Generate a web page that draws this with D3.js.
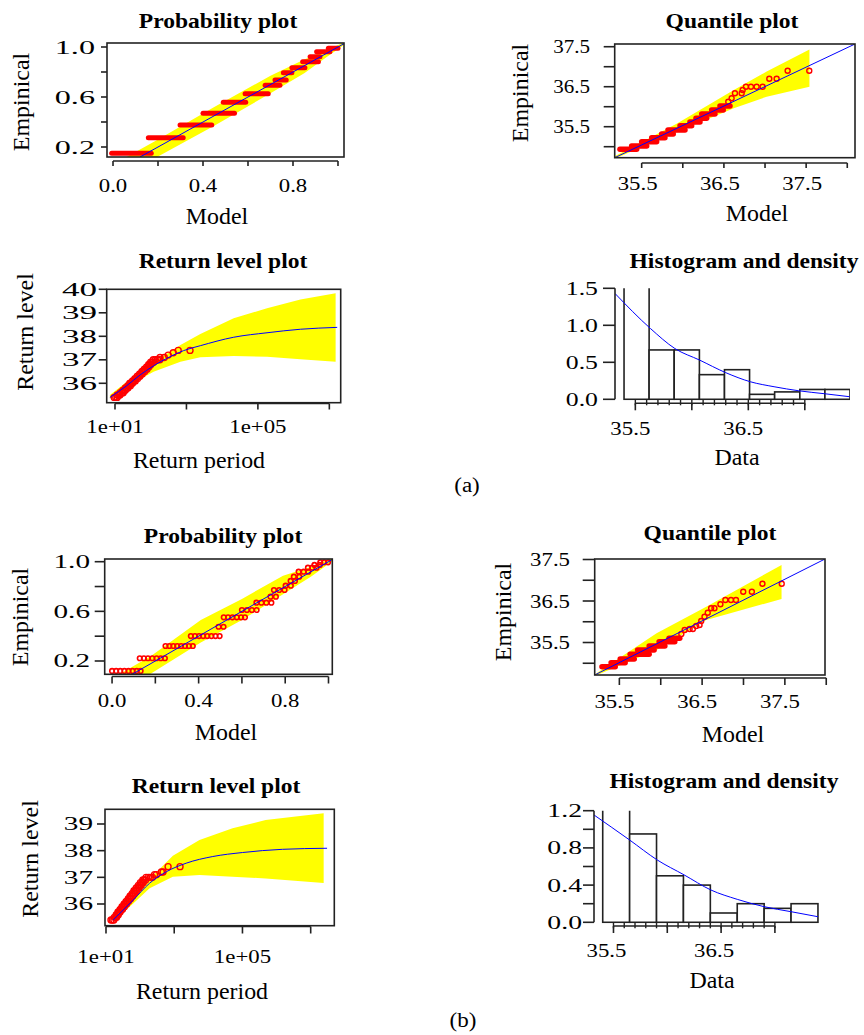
<!DOCTYPE html>
<html>
<head>
<meta charset="utf-8">
<script src="https://cdn.jsdelivr.net/npm/d3@7"></script>
<style>
  body { margin: 0; background: #fff; }
  text { font-family: "Liberation Serif", "Times New Roman", serif; fill: #000; }
</style>
</head>
<body>
<svg id="fig" width="864" height="1035"></svg>
<script>
// ---------- data ----------

// (a) probability plot: [empirical, model from, model to] for each run of tied points
const probA_runs = [
  [0.150, -0.006, 0.170], [0.274, 0.157, 0.312], [0.376, 0.298, 0.439],
  [0.470, 0.400, 0.540], [0.558, 0.490, 0.590], [0.626, 0.587, 0.690],
  [0.694, 0.676, 0.742], [0.736, 0.720, 0.770], [0.794, 0.757, 0.795],
  [0.834, 0.795, 0.853], [0.882, 0.843, 0.913], [0.922, 0.876, 0.920],
  [0.962, 0.905, 0.964], [0.990, 0.957, 1.000]
];
const probA_bandModel = [0.03, 0.20, 0.45, 0.70, 0.85, 0.95, 1.03];
const probA_bandLower = [-0.05, 0.125, 0.37, 0.63, 0.79, 0.92, 1.02];
const probA_bandUpper = [0.09, 0.26, 0.52, 0.77, 0.90, 0.975, 1.04];
const probA_diag = [0.12, 1.03];

// (a) quantile plot
const quantA_runs = [
  [34.935, 35.236, 35.439], [35.020, 35.378, 35.561], [35.125, 35.500, 35.682],
  [35.225, 35.622, 35.783], [35.318, 35.743, 35.884], [35.418, 35.820, 36.027],
  [35.525, 35.966, 36.108], [35.618, 36.087, 36.209], [35.710, 36.160, 36.290],
  [35.818, 36.230, 36.391], [35.918, 36.351, 36.492], [36.018, 36.452, 36.574]
];
const quantA_model = [36.553, 36.594, 36.634, 36.716, 36.728, 36.768, 36.829, 36.898, 36.971, 37.052, 37.141, 37.275, 37.538];
const quantA_emp   = [36.125, 36.210, 36.335, 36.335, 36.418, 36.500, 36.500, 36.500, 36.500, 36.700, 36.700, 36.900, 36.900];
const quantA_bandModel = [35.172, 35.93, 36.62, 37.02, 37.54];
const quantA_bandLower = [34.70, 35.37, 35.96, 36.25, 36.50];
const quantA_bandUpper = [34.76, 35.58, 36.42, 36.88, 37.43];
const quantA_lineModel = [35.172, 38.094];
const quantA_lineEmp = [34.725, 37.568];

// (a) return level plot
const retA_curveT = [7.2, 21, 50, 120, 280, 830, 2450, 2.1e4, 1.8e5, 1.55e6, 1.66e7];
const retA_curveLevel = [35.40, 35.89, 36.35, 36.74, 37.06, 37.39, 37.60, 37.96, 38.15, 38.30, 38.38];
const retA_bandT = [7.2, 32, 120, 680, 2450, 2.1e4, 1.8e5, 1.55e6, 1.5e7];
const retA_bandLower = [35.35, 36.00, 36.49, 36.92, 37.11, 37.16, 37.13, 37.02, 36.92];
const retA_bandUpper = [35.50, 36.28, 36.88, 37.63, 38.10, 38.77, 39.19, 39.57, 39.83];
// observed levels and the return periods of the tied points on each level
const retA_levels = [35.4, 35.5, 35.6, 35.7, 35.8, 35.9, 36.0, 36.1, 36.2, 36.3, 36.4, 36.5, 36.6, 36.7, 36.8, 36.9, 37.0, 37.1, 37.2, 37.3, 37.4];
const retA_periods = [
  [9.5, 10.5, 11.5], [11.5, 12.6, 13.8], [14, 15.5, 17], [16.5, 18, 19.5], [19.5, 21, 23],
  [23, 25, 27], [26, 28.5, 31], [31, 34, 37], [36, 39, 43], [42, 46, 50], [49, 53, 58],
  [57, 62, 68], [66, 72, 79], [77, 84, 90], [88, 95, 102], [100, 110, 120],
  [118, 135, 155, 180], [182, 240], [309], [427], [589, 1259]
];

// (a) histogram and density
const histA_breaks = [35.4, 35.622, 35.844, 36.067, 36.289, 36.511, 36.733, 36.956, 37.178, 37.4];
const histA_density = [2.0, 0.667, 0.667, 0.333, 0.4, 0.067, 0.1, 0.133, 0.133];
const histA_curveX = [35.32, 35.635, 35.85, 36.069, 36.30, 36.518, 36.728, 36.947, 37.177, 37.396];
const histA_curveY = [1.43, 0.955, 0.686, 0.53, 0.36, 0.237, 0.17, 0.115, 0.075, 0.035];

// (b) probability plot: empirical level and the model value of each circle on it
const probB_emp = [0.12, 0.222, 0.321, 0.401, 0.476, 0.552, 0.611, 0.67, 0.718, 0.772, 0.807, 0.845, 0.879, 0.92, 0.952, 0.974, 0.995];
const probB_model = [
  [0.000, 0.019, 0.038, 0.057, 0.076, 0.095, 0.114, 0.132],
  [0.128, 0.147, 0.166, 0.186, 0.206, 0.225, 0.244],
  [0.247, 0.265, 0.283, 0.301, 0.319, 0.337, 0.355, 0.373],
  [0.364, 0.383, 0.402, 0.421, 0.440, 0.459, 0.478, 0.497],
  [0.492, 0.515],
  [0.516, 0.536, 0.556, 0.576, 0.596, 0.614],
  [0.600, 0.623, 0.646, 0.668],
  [0.667, 0.690, 0.713, 0.736],
  [0.732, 0.757],
  [0.748, 0.772, 0.797],
  [0.802, 0.826],
  [0.825, 0.845],
  [0.840, 0.865],
  [0.862, 0.885, 0.907],
  [0.905, 0.925, 0.945],
  [0.935, 0.960],
  [0.962, 0.980, 0.998]
];
const probB_bandModel = [0.02, 0.18, 0.41, 0.60, 0.79, 0.92, 1.03];
const probB_bandLower = [-0.05, 0.10, 0.35, 0.53, 0.737, 0.88, 1.02];
const probB_bandUpper = [0.08, 0.24, 0.53, 0.70, 0.887, 0.96, 1.04];
const probB_diag = [0.09, 1.03];

// (b) quantile plot
const quantB_runs = [
  [34.917, 35.29, 35.45], [35.015, 35.40, 35.57], [35.100, 35.51, 35.68], [35.216, 35.63, 35.86],
  [35.320, 35.72, 35.92], [35.416, 35.86, 36.05], [35.520, 35.98, 36.17], [35.600, 36.10, 36.23]
];
const quantB_model = [36.249, 36.289, 36.349, 36.388, 36.429, 36.469, 36.489, 36.529, 36.568, 36.609, 36.649, 36.721, 36.781, 36.849, 36.909, 36.997, 37.101, 37.229, 37.462];
const quantB_emp   = [35.705, 35.801, 35.825, 35.825, 35.898, 35.922, 36.018, 36.122, 36.218, 36.324, 36.324, 36.420, 36.524, 36.524, 36.524, 36.724, 36.724, 36.917, 36.917];
const quantB_bandModel = [35.21, 35.95, 36.55, 37.46];
const quantB_bandLower = [34.70, 35.32, 36.04, 36.55];
const quantB_bandUpper = [34.74, 35.72, 36.36, 37.37];
const quantB_lineModel = [35.202, 37.985];
const quantB_lineEmp = [34.717, 37.512];

// (b) return level plot
const retB_curveT = [16.2, 63, 190, 589, 2239, 13490, 1e5, 1.48e6, 3.02e7];
const retB_curveLevel = [35.40, 36.15, 36.78, 37.21, 37.53, 37.78, 37.93, 38.05, 38.09];
const retB_bandT = [16.2, 63, 190, 912, 5495, 51286, 478630, 2.4e7];
const retB_bandLower = [35.33, 36.02, 36.59, 37.02, 37.09, 37.02, 36.96, 36.79];
const retB_bandUpper = [35.48, 36.30, 36.94, 37.81, 38.40, 38.84, 39.15, 39.40];
const retB_levels = [35.4, 35.5, 35.6, 35.7, 35.8, 35.9, 36.0, 36.1, 36.2, 36.3, 36.4, 36.5, 36.6, 36.7, 36.8, 36.9, 37.0, 37.1, 37.2, 37.4];
const retB_periods = [
  [14, 15.5, 17], [17.5, 19, 20.5], [20, 21.5, 23], [22.5, 24, 26], [26, 28, 30.5],
  [29.5, 32, 34.5], [34, 37, 40], [39, 42.5, 46], [45, 49, 53], [51, 56, 61], [59, 64.5, 70],
  [66, 72, 79], [77, 85, 93], [89, 98, 107], [102, 112, 123], [120, 132, 145],
  [150, 175, 200, 230], [265, 300], [420, 470], [661, 1479]
];

// (b) histogram and density
const histB_breaks = [35.4, 35.65, 35.9, 36.15, 36.4, 36.65, 36.9, 37.15, 37.4];
const histB_density = [1.5, 0.95, 0.5, 0.4, 0.1, 0.2, 0.15, 0.2];
const histB_curveX = [35.319, 35.65, 35.907, 36.156, 36.406, 36.65, 36.90, 37.15, 37.40];
const histB_curveY = [1.154, 0.885, 0.67, 0.51, 0.347, 0.247, 0.168, 0.114, 0.06];

// ticks
const probTicks = [0, 0.2, 0.4, 0.6, 0.8, 1.0];
const probTickLabels = ['0.0', '', '0.4', '', '0.8', ''];
const probYTicks = [0.2, 0.4, 0.6, 0.8, 1.0];
const probYTickLabels = ['0.2', '', '0.6', '', '1.0'];
const quantTicks = [35.5, 36.0, 36.5, 37.0, 37.5, 38.0];
const quantTickLabels = ['35.5', '', '36.5', '', '37.5', ''];
const quantYTicks = [35.0, 35.5, 36.0, 36.5, 37.0, 37.5];
const quantYTickLabels = ['', '35.5', '', '36.5', '', '37.5'];
const retTicks = [1e1, 1e3, 1e5, 1e7];
const retTickLabels = ['1e+01', '', '1e+05', ''];
const retAYTicks = [36, 37, 38, 39, 40];
const retBYTicks = [36, 37, 38, 39];
const histTicks = [35.5, 36.0, 36.5, 37.0];
const histTickLabels = ['35.5', '', '36.5', ''];
const histMinor = [35.5, 35.6, 35.7, 35.8, 35.9, 36.0, 36.1, 36.2, 36.3, 36.4, 36.5, 36.6, 36.7, 36.8, 36.9, 37.0];
const histAYTicks = [0, 0.5, 1.0, 1.5];
const histAYTickLabels = ['0.0', '0.5', '1.0', '1.5'];
const histBYTicks = [0, 0.2, 0.4, 0.6, 0.8, 1.0, 1.2];
const histBYTickLabels = ['0.0', '', '0.4', '', '0.8', '', '1.2'];

// ---------- drawing ----------
const svg = d3.select('#fig');
const defs = svg.append('defs');
const YELLOW = '#ffff00', RED = '#ff0000', BLUE = '#0000ff', INK = '#222';
let clipCount = 0;

// stretch text horizontally like the scanned figure
function stretch(sel, k) {
  sel.each(function () {
    const w = this.getComputedTextLength();
    if (w > 0 && k !== 1) d3.select(this).attr('textLength', w * k).attr('lengthAdjust', 'spacingAndGlyphs');
  });
}

function makePanel(p) {
  const g = svg.append('g');
  const x = (p.logX ? d3.scaleLog() : d3.scaleLinear()).domain(p.xDomain).range([p.left, p.right]);
  const y = d3.scaleLinear().domain(p.yDomain).range([p.bottom, p.top]);
  const id = 'clip' + clipCount++;
  defs.append('clipPath').attr('id', id).append('rect')
    .attr('x', p.left).attr('y', p.top)
    .attr('width', p.right - p.left).attr('height', (p.clipBottom || p.bottom) - p.top);
  const plot = g.append('g').attr('clip-path', `url(#${id})`);
  return { g, x, y, plot };
}

function drawAxes(p, s) {
  const g = s.g;
  if (p.box) {
    g.append('rect')
      .attr('x', p.left).attr('y', p.top)
      .attr('width', p.right - p.left).attr('height', p.bottom - p.top)
      .attr('fill', 'none').attr('stroke', INK).attr('stroke-width', 1.6);
  }
  // x axis
  const xt = p.xTicks;
  g.append('line')
    .attr('x1', s.x(xt[0])).attr('x2', s.x(xt[xt.length - 1]))
    .attr('y1', p.xAxisY).attr('y2', p.xAxisY)
    .attr('stroke', INK).attr('stroke-width', 1.6);
  g.selectAll(null).data(xt).join('line')
    .attr('x1', d => s.x(d)).attr('x2', d => s.x(d))
    .attr('y1', p.xAxisY).attr('y2', p.xAxisY + p.xTickLen)
    .attr('stroke', INK).attr('stroke-width', 1.6);
  const xl = g.selectAll(null).data(xt).join('text')
    .attr('x', d => s.x(d) + (p.xLabelDx || 0)).attr('y', p.xLabelY)
    .attr('text-anchor', 'middle').attr('font-size', 19.5)
    .text((d, i) => p.xLabels[i]);
  stretch(xl, 1.17);

  // y axis
  const yt = p.yTicks;
  const ax = p.yAxisX !== undefined ? p.yAxisX : p.left;
  if (p.yAxisX !== undefined) {
    g.append('line')
      .attr('x1', ax).attr('x2', ax)
      .attr('y1', s.y(yt[0])).attr('y2', s.y(yt[yt.length - 1]))
      .attr('stroke', INK).attr('stroke-width', 1.6);
  }
  g.selectAll(null).data(yt).join('line')
    .attr('x1', ax - p.yTickLen).attr('x2', ax)
    .attr('y1', d => s.y(d)).attr('y2', d => s.y(d))
    .attr('stroke', INK).attr('stroke-width', 1.6);
  const yl = g.selectAll(null).data(yt).join('text')
    .attr('x', p.yLabelX).attr('y', d => s.y(d) + 6.5)
    .attr('text-anchor', 'end').attr('font-size', 19.5)
    .text((d, i) => p.yLabels[i]);
  stretch(yl, p.yLabelK);

  // titles
  const t = g.append('text').attr('x', p.titleX).attr('y', p.titleY)
    .attr('text-anchor', 'middle').attr('font-size', 22).attr('font-weight', 'bold').text(p.title);
  stretch(t, 1.07);
  const xtl = g.append('text').attr('x', p.xTitleX).attr('y', p.xTitleY)
    .attr('text-anchor', 'middle').attr('font-size', 23).text(p.xTitle);
  stretch(xtl, 1.04);
  if (p.yTitle) {
    const ytl = g.append('text')
      .attr('transform', `translate(${p.yTitleX},${p.yTitleY}) rotate(-90)`)
      .attr('text-anchor', 'middle').attr('font-size', 23).text(p.yTitle);
    stretch(ytl, 1.04);
  }
}

function band(s, xs, lo, hi) {
  const area = d3.area().x(d => s.x(d[0])).y0(d => s.y(d[1])).y1(d => s.y(d[2]));
  s.plot.append('path').datum(xs.map((v, i) => [v, lo[i], hi[i]]))
    .attr('d', area).attr('fill', YELLOW);
}

function blueLine(s, xs, ys, curve) {
  const line = d3.line().x(d => s.x(d[0])).y(d => s.y(d[1])).curve(curve || d3.curveLinear);
  s.plot.append('path').datum(xs.map((v, i) => [v, ys[i]]))
    .attr('d', line).attr('fill', 'none').attr('stroke', BLUE).attr('stroke-width', 1);
}

function runs(s, data, width) {
  s.plot.selectAll(null).data(data).join('line')
    .attr('x1', d => s.x(d[1])).attr('x2', d => s.x(d[2]))
    .attr('y1', d => s.y(d[0])).attr('y2', d => s.y(d[0]))
    .attr('stroke', RED).attr('stroke-width', width).attr('stroke-linecap', 'round');
}

function circles(s, xs, ys, r, sw) {
  s.plot.selectAll(null).data(xs.map((v, i) => [v, ys[i]])).join('circle')
    .attr('cx', d => s.x(d[0])).attr('cy', d => s.y(d[1])).attr('r', r)
    .attr('fill', 'none').attr('stroke', RED).attr('stroke-width', sw || 1.3);
}

// points of a return level plot: one group of return periods per observed level
function levelPoints(s, levels, periods, r) {
  levels.forEach((lv, i) => circles(s, periods[i], periods[i].map(() => lv), r, 1.4));
}

function histogram(p, s, breaks, dens, cx, cy) {
  s.plot.selectAll(null).data(dens).join('rect')
    .attr('x', (d, i) => s.x(breaks[i]))
    .attr('width', (d, i) => s.x(breaks[i + 1]) - s.x(breaks[i]))
    .attr('y', d => s.y(d))
    .attr('height', d => s.y(0) - s.y(d))
    .attr('fill', '#fff').attr('stroke', INK).attr('stroke-width', 1.6);
  // small ticks between the bars and the axis line
  s.g.selectAll(null).data(histMinor).join('line')
    .attr('x1', d => s.x(d)).attr('x2', d => s.x(d))
    .attr('y1', s.y(0)).attr('y2', s.y(0) + 6)
    .attr('stroke', INK).attr('stroke-width', 1.4);
  blueLine(s, cx, cy, d3.curveMonotoneX);
}

// ----- (a) probability plot -----
const pA1 = {
  left: 107, right: 344, top: 43, bottom: 157, box: true,
  xDomain: [-0.0267, 1.0267], yDomain: [0.12, 1.032],
  xTicks: probTicks, xLabels: probTickLabels, xAxisY: 161, xTickLen: 5, xLabelY: 192,
  yTicks: probYTicks, yLabels: probYTickLabels, yTickLen: 6, yLabelX: 95, yLabelK: 1.65,
  title: 'Probability plot', titleX: 218, titleY: 28,
  xTitle: 'Model', xTitleX: 217, xTitleY: 224, yTitle: 'Empinical', yTitleX: 29, yTitleY: 102
};
const sA1 = makePanel(pA1);
band(sA1, probA_bandModel, probA_bandLower, probA_bandUpper);
runs(sA1, probA_runs, 5);
blueLine(sA1, probA_diag, probA_diag);
drawAxes(pA1, sA1);

// ----- (a) quantile plot -----
const pA2 = {
  left: 614.7, right: 855, top: 44, bottom: 157.7, box: true,
  xDomain: [35.172, 38.094], yDomain: [34.725, 37.568],
  xTicks: quantTicks, xLabels: quantTickLabels, xAxisY: 163, xTickLen: 5, xLabelY: 190, xLabelDx: -4,
  yTicks: quantYTicks, yLabels: quantYTickLabels, yTickLen: 11, yLabelX: 590, yLabelK: 1.08,
  title: 'Quantile plot', titleX: 732, titleY: 28,
  xTitle: 'Model', xTitleX: 757, xTitleY: 221, yTitle: 'Empinical', yTitleX: 528, yTitleY: 93
};
const sA2 = makePanel(pA2);
band(sA2, quantA_bandModel, quantA_bandLower, quantA_bandUpper);
runs(sA2, quantA_runs, 5.5);
circles(sA2, quantA_model, quantA_emp, 2.5, 1.4);
blueLine(sA2, quantA_lineModel, quantA_lineEmp);
drawAxes(pA2, sA2);

// ----- (a) return level plot -----
const pA3 = {
  left: 106.7, right: 340.7, top: 289.3, bottom: 402.7, box: true, logX: true,
  xDomain: [5.86, 2.08e7], yDomain: [35.174, 40.0],
  xTicks: retTicks, xLabels: retTickLabels, xAxisY: 403.5, xTickLen: 6, xLabelY: 433,
  yTicks: retAYTicks, yLabels: retAYTicks.map(String), yTickLen: 8, yLabelX: 97, yLabelK: 1.8,
  title: 'Return level plot', titleX: 223, titleY: 268,
  xTitle: 'Return period', xTitleX: 199, xTitleY: 468, yTitle: 'Return level', yTitleX: 33, yTitleY: 332
};
const sA3 = makePanel(pA3);
band(sA3, retA_bandT, retA_bandLower, retA_bandUpper);
levelPoints(sA3, retA_levels, retA_periods, 3);
blueLine(sA3, retA_curveT, retA_curveLevel, d3.curveMonotoneX);
drawAxes(pA3, sA3);

// ----- (a) histogram -----
const pA4 = {
  left: 615, right: 850, top: 288.3, bottom: 399.3, clipBottom: 400.5,
  xDomain: [35.32, 37.40], yDomain: [0, 1.5],
  xTicks: histTicks, xLabels: histTickLabels, xAxisY: 403.3, xTickLen: 7, xLabelY: 435, xLabelDx: -5,
  yTicks: histAYTicks, yLabels: histAYTickLabels, yAxisX: 615, yTickLen: 12, yLabelX: 598, yLabelK: 1.32,
  title: 'Histogram and density', titleX: 744, titleY: 268,
  xTitle: 'Data', xTitleX: 737, xTitleY: 465
};
const sA4 = makePanel(pA4);
histogram(pA4, sA4, histA_breaks, histA_density, histA_curveX, histA_curveY);
drawAxes(pA4, sA4);

// ----- (b) probability plot -----
const pB1 = {
  left: 104.7, right: 332.3, top: 559, bottom: 674.3, box: true,
  xDomain: [-0.034, 1.0176], yDomain: [0.0928, 1.0218],
  xTicks: probTicks, xLabels: probTickLabels, xAxisY: 676.5, xTickLen: 7, xLabelY: 707,
  yTicks: probYTicks, yLabels: probYTickLabels, yTickLen: 10, yLabelX: 90, yLabelK: 1.5,
  title: 'Probability plot', titleX: 223, titleY: 543,
  xTitle: 'Model', xTitleX: 226, xTitleY: 740, yTitle: 'Empinical', yTitleX: 28, yTitleY: 617
};
const sB1 = makePanel(pB1);
band(sB1, probB_bandModel, probB_bandLower, probB_bandUpper);
probB_emp.forEach((e, i) => circles(sB1, probB_model[i], probB_model[i].map(() => e), 2.3, 1.6));
blueLine(sB1, probB_diag, probB_diag);
drawAxes(pB1, sB1);

// ----- (b) quantile plot -----
const pB2 = {
  left: 594.7, right: 825, top: 559, bottom: 675, box: true,
  xDomain: [35.202, 37.985], yDomain: [34.717, 37.512],
  xTicks: quantTicks, xLabels: quantTickLabels, xAxisY: 678, xTickLen: 7, xLabelY: 708, xLabelDx: -5,
  yTicks: quantYTicks, yLabels: quantYTickLabels, yTickLen: 12, yLabelX: 570, yLabelK: 1.17,
  title: 'Quantile plot', titleX: 710, titleY: 540,
  xTitle: 'Model', xTitleX: 733, xTitleY: 741.5, yTitle: 'Empinical', yTitleX: 511, yTitleY: 612
};
const sB2 = makePanel(pB2);
band(sB2, quantB_bandModel, quantB_bandLower, quantB_bandUpper);
runs(sB2, quantB_runs, 5.5);
circles(sB2, quantB_model, quantB_emp, 2.5, 1.4);
blueLine(sB2, quantB_lineModel, quantB_lineEmp);
drawAxes(pB2, sB2);

// ----- (b) return level plot -----
const pB3 = {
  left: 105, right: 334.3, top: 809.3, bottom: 925.7, box: true, logX: true,
  xDomain: [9.35, 4.92e7], yDomain: [35.186, 39.551],
  xTicks: retTicks, xLabels: retTickLabels, xAxisY: 926.5, xTickLen: 7, xLabelY: 963,
  yTicks: retBYTicks, yLabels: retBYTicks.map(String), yTickLen: 8, yLabelX: 93, yLabelK: 1.5,
  title: 'Return level plot', titleX: 216, titleY: 793,
  xTitle: 'Return period', xTitleX: 202, xTitleY: 999, yTitle: 'Return level', yTitleX: 38, yTitleY: 859
};
const sB3 = makePanel(pB3);
band(sB3, retB_bandT, retB_bandLower, retB_bandUpper);
levelPoints(sB3, retB_levels, retB_periods, 3);
blueLine(sB3, retB_curveT, retB_curveLevel, d3.curveMonotoneX);
drawAxes(pB3, sB3);

// ----- (b) histogram -----
const pB4 = {
  left: 594, right: 820, top: 810.7, bottom: 922.3, clipBottom: 923.5,
  xDomain: [35.319, 37.419], yDomain: [0, 1.2],
  xTicks: histTicks, xLabels: histTickLabels, xAxisY: 926, xTickLen: 7, xLabelY: 957, xLabelDx: -7,
  yTicks: histBYTicks, yLabels: histBYTickLabels, yAxisX: 594, yTickLen: 11, yLabelX: 582, yLabelK: 1.42,
  title: 'Histogram and density', titleX: 724, titleY: 788,
  xTitle: 'Data', xTitleX: 712, xTitleY: 988
};
const sB4 = makePanel(pB4);
histogram(pB4, sB4, histB_breaks, histB_density, histB_curveX, histB_curveY);
drawAxes(pB4, sB4);

// sub-figure captions
const capA = svg.append('text').attr('x', 467).attr('y', 492).attr('text-anchor', 'middle').attr('font-size', 20).text('(a)');
const capB = svg.append('text').attr('x', 463).attr('y', 1027).attr('text-anchor', 'middle').attr('font-size', 20).text('(b)');
stretch(capA, 1.15);
stretch(capB, 1.15);
</script>
</body>
</html>
